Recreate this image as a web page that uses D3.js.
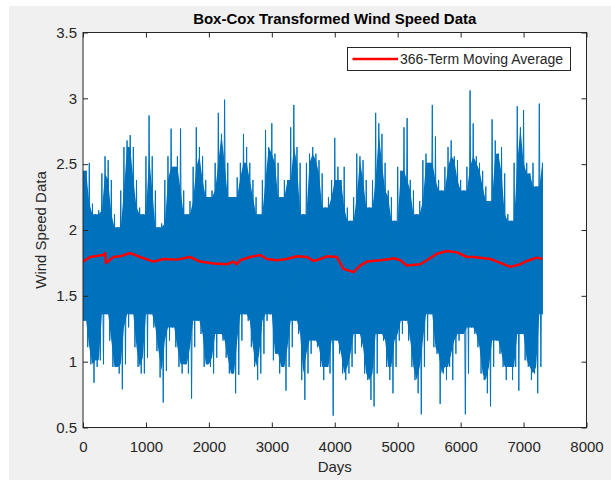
<!DOCTYPE html>
<html lang="en">
<meta charset="utf-8">
<style type="text/css">
  body { margin: 0; background: #fff; }
  svg text { font-family: 'Liberation Sans', Arial, Helvetica, sans-serif; fill: #262626; }
</style>
<script src="https://d3js.org/d3.v7.min.js"></script>
<body>
<div id="chart"></div>
<script type="text/javascript">
  // day spacing of the envelope samples
  var dayStep = 50;

  // upper envelope of the daily series, one value every 50 days (0 .. 7300)
  var hiVals = [
    2.45, 2.45, 2.51, 2.20, 2.12, 2.15, 2.43, 2.56, 2.53, 2.38,
    2.12, 2.02, 2.30, 2.63, 2.68, 2.72, 2.63, 2.38, 2.17, 2.12,
    2.56, 2.87, 2.56, 2.30, 2.02, 2.05, 2.38, 2.56, 2.77, 2.48,
    2.56, 2.77, 2.30, 2.12, 2.22, 2.48, 2.78, 2.63, 2.56, 2.38,
    2.25, 2.30, 2.51, 2.89, 2.73, 2.99, 2.51, 2.25, 2.25, 2.40,
    2.51, 2.73, 2.63, 2.51, 2.38, 2.25, 2.12, 2.38, 2.76, 2.63,
    2.81, 2.58, 2.51, 2.25, 2.38, 2.38, 2.78, 2.95, 2.63, 2.51,
    2.12, 2.51, 2.58, 2.63, 2.58, 2.53, 2.43, 2.17, 2.25, 2.38,
    2.70, 2.48, 2.38, 2.48, 2.17, 2.07, 2.25, 2.58, 2.56, 2.53,
    2.38, 2.17, 2.38, 2.89, 2.81, 2.73, 2.51, 2.30, 2.25, 2.07,
    2.48, 2.45, 2.78, 2.85, 2.38, 2.30, 2.12, 2.22, 2.53, 2.58,
    2.51, 2.95, 2.71, 2.38, 2.30, 2.48, 2.63, 2.68, 2.56, 2.53,
    2.38, 2.30, 2.48, 3.06, 2.81, 2.56, 2.51, 2.45, 2.33, 2.22,
    2.84, 2.68, 2.58, 2.63, 2.43, 2.12, 2.07, 2.51, 2.94, 2.78,
    2.91, 2.51, 2.43, 2.51, 2.33, 2.96, 2.51
  ];

  // lower envelope, same days
  var loVals = [
    1.31, 1.11, 0.98, 0.84, 0.96, 1.01, 0.98, 1.36, 1.16, 0.96,
    0.96, 0.91, 0.79, 0.98, 1.26, 1.36, 1.11, 0.96, 0.91, 0.91,
    1.03, 1.36, 1.26, 1.08, 0.88, 0.69, 0.93, 1.16, 1.26, 1.11,
    0.96, 0.91, 0.98, 0.91, 0.72, 1.11, 1.31, 1.21, 0.96, 0.98,
    0.96, 0.91, 1.03, 1.21, 1.16, 1.03, 0.91, 0.91, 0.76, 0.90,
    1.16, 1.36, 1.31, 1.11, 0.96, 0.86, 0.91, 1.06, 1.31, 1.36,
    1.01, 1.06, 0.91, 0.96, 0.78, 0.96, 1.11, 1.31, 1.21, 0.86,
    0.71, 0.91, 1.06, 1.16, 1.11, 0.96, 0.86, 0.96, 0.91, 0.59,
    1.16, 1.06, 0.91, 0.86, 0.91, 0.96, 1.06, 1.21, 1.11, 0.91,
    0.86, 0.71, 0.66, 0.91, 1.21, 1.16, 0.96, 0.86, 0.76, 0.96,
    1.16, 1.21, 1.31, 1.16, 0.96, 0.86, 0.76, 0.60, 0.96, 1.16,
    1.36, 1.11, 1.06, 0.68, 0.91, 0.86, 0.96, 0.86, 1.06, 1.16,
    1.21, 0.60, 0.91, 1.26, 1.21, 1.11, 0.91, 0.86, 0.76, 0.66,
    0.96, 1.16, 1.06, 0.96, 0.86, 0.96, 0.86, 0.96, 0.78, 1.21,
    1.01, 0.96, 0.86, 0.91, 0.76, 0.96, 1.36
  ];

  // 366-term moving average, read at these days
  var maDays = [0, 111, 323, 350, 366, 482, 588, 747, 906, 1118, 1277, 1489, 1701, 1860,
                2072, 2284, 2390, 2443, 2496, 2655, 2814, 2920, 3079, 3238, 3396, 3556,
                3662, 3768, 3874, 4033, 4139, 4298, 4404, 4510, 4722, 4881, 4934, 5040,
                5146, 5358, 5464, 5623, 5782, 5940, 6099, 6205, 6471, 6630, 6789, 6948,
                7054, 7213, 7300];
  var maVals = [1.76, 1.795, 1.81, 1.825, 1.75, 1.795, 1.80, 1.825, 1.795, 1.76, 1.78, 1.775,
                1.795, 1.76, 1.745, 1.74, 1.76, 1.74, 1.77, 1.795, 1.81, 1.78, 1.77, 1.78,
                1.80, 1.795, 1.765, 1.78, 1.80, 1.795, 1.705, 1.68, 1.73, 1.76, 1.77, 1.78,
                1.785, 1.77, 1.73, 1.74, 1.77, 1.82, 1.84, 1.83, 1.795, 1.795, 1.78, 1.75,
                1.72, 1.74, 1.765, 1.79, 1.78];

  var xTicks = [0, 1000, 2000, 3000, 4000, 5000, 6000, 7000, 8000];
  var yTicks = [0.5, 1, 1.5, 2, 2.5, 3, 3.5];

  var W = 611, H = 480;
  var pl = 83, pr = 586.5, pt = 32.5, pb = 427.5;

  var svg = d3.select("#chart").append("svg")
      .attr("width", W)
      .attr("height", H);

  // figure background (matlab grey)
  svg.append("rect")
      .attr("x", 9).attr("y", 6)
      .attr("width", W - 9).attr("height", H - 6)
      .attr("fill", "#f0f0f0");

  svg.append("rect")
      .attr("x", pl).attr("y", pt)
      .attr("width", pr - pl).attr("height", pb - pt)
      .attr("fill", "#fff");

  var x = d3.scaleLinear().domain([0, 8000]).range([pl, pr]);
  var y = d3.scaleLinear().domain([0.5, 3.5]).range([pb, pt]);

  svg.append("clipPath").attr("id", "clip")
    .append("rect")
      .attr("x", pl).attr("y", pt)
      .attr("width", pr - pl).attr("height", pb - pt);

  var days = hiVals.map((v, i) => i * dayStep);
  var n = hiVals.length;

  // dense core: the part every neighbouring window reaches
  function coreHi(i) {
    return d3.min([hiVals[Math.max(i - 1, 0)], hiVals[i], hiVals[Math.min(i + 1, n - 1)]]);
  }
  function coreLo(i) {
    return d3.max([loVals[Math.max(i - 1, 0)], loVals[i], loVals[Math.min(i + 1, n - 1)]]);
  }

  var band = d3.area()
      .x((d, i) => x(days[i]))
      .y0((d, i) => y(coreLo(i)))
      .y1((d, i) => y(coreHi(i)));

  svg.append("path")
      .datum(hiVals)
      .attr("clip-path", "url(#clip)")
      .attr("d", band)
      .attr("fill", "#0072BD");

  // spikes: alternate the high and low of each sample window
  var pts = [];
  for (let i = 0; i < n; ++i) {
    pts.push([days[i], hiVals[i]]);
    pts.push([Math.min(days[i] + dayStep / 2, 7300), loVals[i]]);
  }

  var line = d3.line()
      .x((d) => x(d[0]))
      .y((d) => y(d[1]));

  svg.append("path")
      .datum(pts)
      .attr("clip-path", "url(#clip)")
      .attr("d", line)
      .attr("fill", "none")
      .attr("stroke", "#0072BD")
      .attr("stroke-width", 1)
      .attr("stroke-linejoin", "miter");

  var ma = maDays.map((d, i) => [d, maVals[i]]);
  svg.append("path")
      .datum(ma)
      .attr("clip-path", "url(#clip)")
      .attr("d", line)
      .attr("fill", "none")
      .attr("stroke", "#ff0000")
      .attr("stroke-width", 2.5)
      .attr("stroke-linejoin", "round");

  // axes, ticks pointing inwards on all four sides
  var fmt = d3.format("");
  var gx = svg.append("g")
      .attr("transform", "translate(0," + pb + ")")
      .call(d3.axisBottom(x).tickValues(xTicks).tickSizeInner(-5).tickSizeOuter(0).tickPadding(14.3)
            .tickFormat(fmt));
  var gy = svg.append("g")
      .attr("transform", "translate(" + pl + ",0)")
      .call(d3.axisLeft(y).tickValues(yTicks).tickSizeInner(-5).tickSizeOuter(0).tickPadding(6)
            .tickFormat(fmt));
  var gt = svg.append("g")
      .attr("transform", "translate(0," + pt + ")")
      .call(d3.axisTop(x).tickValues(xTicks).tickSizeInner(-5).tickSizeOuter(0).tickFormat(""));
  var gr = svg.append("g")
      .attr("transform", "translate(" + pr + ",0)")
      .call(d3.axisRight(y).tickValues(yTicks).tickSizeInner(-5).tickSizeOuter(0).tickFormat(""));

  [gx, gy, gt, gr].forEach((g) => {
    g.select(".domain").remove();
    g.selectAll("line").attr("stroke", "#262626");
    g.selectAll("text").style("font-size", "15px").attr("fill", "#262626");
  });

  svg.append("rect")
      .attr("x", pl).attr("y", pt)
      .attr("width", pr - pl).attr("height", pb - pt)
      .attr("fill", "none")
      .attr("stroke", "#262626")
      .attr("stroke-width", 1);

  // labels
  svg.append("text")
      .attr("x", (pl + pr) / 2).attr("y", 24)
      .attr("text-anchor", "middle")
      .style("font-size", "15px")
      .style("font-weight", "bold")
      .style("fill", "#000")
      .text("Box-Cox Transformed Wind Speed Data");

  svg.append("text")
      .attr("x", (pl + pr) / 2).attr("y", 472)
      .attr("text-anchor", "middle")
      .style("font-size", "15px")
      .text("Days");

  svg.append("text")
      .attr("transform", "translate(46," + (pt + pb) / 2 + ")rotate(-90)")
      .attr("text-anchor", "middle")
      .style("font-size", "15px")
      .text("Wind Speed Data");

  // legend
  var lg = svg.append("g");
  lg.append("rect")
      .attr("x", 347.5).attr("y", 47.5)
      .attr("width", 223).attr("height", 23)
      .attr("fill", "#fff")
      .attr("stroke", "#262626");
  lg.append("line")
      .attr("x1", 352.5).attr("x2", 398)
      .attr("y1", 59).attr("y2", 59)
      .attr("stroke", "#ff0000")
      .attr("stroke-width", 2.5);
  lg.append("text")
      .attr("x", 400).attr("y", 64)
      .style("font-size", "14px")
      .text("366-Term Moving Average");
</script>
</body>
</html>
